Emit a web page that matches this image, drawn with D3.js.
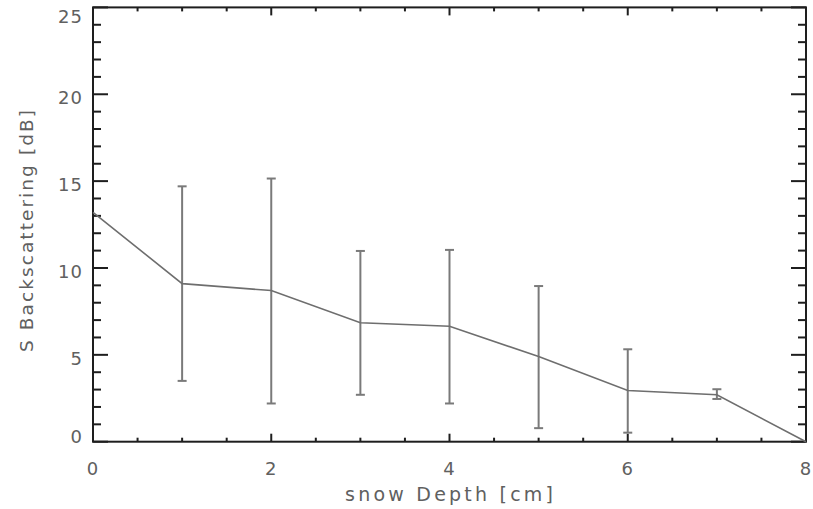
<!DOCTYPE html>
<html>
<head>
<meta charset="utf-8">
<script src="https://cdn.jsdelivr.net/npm/d3@7"></script>
<style>
  html, body { margin: 0; padding: 0; background: #fff; }
  svg { display: block; }
  text { font-family: "DejaVu Sans", sans-serif; fill: #606060; }
</style>
</head>
<body>
<svg id="chart" width="813" height="509"></svg>
<script>
// Snow depth (cm) and mean S-band backscattering (dB) with error bar bounds
const depth = [0, 1, 2, 3, 4, 5, 6, 7, 8];
const backscatter = [13.2, 9.1, 8.7, 6.85, 6.65, 4.9, 2.95, 2.7, 0];
const errLow =  [null, 3.5, 2.2, 2.7, 2.2, 0.78, 0.52, 2.46, null];
const errHigh = [null, 14.7, 15.15, 10.98, 11.04, 8.96, 5.32, 3.02, null];
const xTicks = [0, 2, 4, 6, 8];
const yTicks = [0, 5, 10, 15, 20, 25];

const svg = d3.select("#chart");
const plotLeft = 93, plotRight = 806, plotTop = 7.4, plotBottom = 441.7;

const x = d3.scaleLinear().domain([0, 8]).range([plotLeft, plotRight]);
const y = d3.scaleLinear().domain([0, 25]).range([plotBottom, plotTop]);

const frame = svg.append("g").attr("stroke", "#1e1e1e").attr("stroke-width", 2);

// Minor / major ticks on all four sides
const xMinor = d3.range(0, 8.01, 0.5);
const yMinor = d3.range(0, 25.01, 1);
xMinor.forEach(v => {
  const major = xTicks.includes(v);
  const len = major ? 8 : 4;
  frame.append("line").attr("x1", x(v)).attr("x2", x(v)).attr("y1", plotBottom).attr("y2", plotBottom - len);
  frame.append("line").attr("x1", x(v)).attr("x2", x(v)).attr("y1", plotTop).attr("y2", plotTop + len);
});
yMinor.forEach(v => {
  const major = yTicks.includes(v);
  const len = major ? 15 : 8;
  frame.append("line").attr("x1", plotLeft).attr("x2", plotLeft + len).attr("y1", y(v)).attr("y2", y(v));
  frame.append("line").attr("x1", plotRight).attr("x2", plotRight - len).attr("y1", y(v)).attr("y2", y(v));
});

// Plot frame
frame.append("rect")
  .attr("x", plotLeft).attr("y", plotTop)
  .attr("width", plotRight - plotLeft).attr("height", plotBottom - plotTop)
  .attr("fill", "none");

// Tick labels (end labels nudged inward so they stay on the canvas)
svg.append("g").selectAll("text").data(xTicks).join("text")
  .attr("x", d => x(d)).attr("y", 475)
  .attr("text-anchor", "middle")
  .attr("font-size", 18)
  .attr("letter-spacing", 1)
  .text(d => d);

const yNudge = d => d === 0 ? -5 : d === 25 ? 9.3 : 3.5;
svg.append("g").selectAll("text").data(yTicks).join("text")
  .attr("x", 83).attr("y", d => y(d) + yNudge(d))
  .attr("dy", "0.36em")
  .attr("text-anchor", "end")
  .attr("font-size", 18)
  .attr("letter-spacing", 1)
  .text(d => d);

// Axis titles
svg.append("text")
  .attr("x", 449).attr("y", 501)
  .attr("text-anchor", "middle")
  .attr("font-size", 19)
  .attr("textLength", 208)
  .attr("lengthAdjust", "spacing")
  .text("snow Depth [cm]");

svg.append("text")
  .attr("transform", "translate(33, 231) rotate(-90)")
  .attr("text-anchor", "middle")
  .attr("font-size", 18.5)
  .attr("textLength", 242)
  .attr("lengthAdjust", "spacing")
  .text("S Backscattering [dB]");

// Error bars
const bars = depth.map((d, i) => ({ d, lo: errLow[i], hi: errHigh[i] })).filter(e => e.lo !== null);
const eg = svg.append("g").attr("stroke", "#7a7a7a").attr("stroke-width", 2);
bars.forEach(e => {
  eg.append("line").attr("x1", x(e.d)).attr("x2", x(e.d)).attr("y1", y(e.lo)).attr("y2", y(e.hi));
  [e.lo, e.hi].forEach(v => {
    eg.append("line").attr("x1", x(e.d) - 4.5).attr("x2", x(e.d) + 4.5).attr("y1", y(v)).attr("y2", y(v));
  });
});

// Mean backscattering line
const line = d3.line().x((d, i) => x(depth[i])).y(d => y(d));
svg.append("path")
  .datum(backscatter)
  .attr("d", line)
  .attr("fill", "none")
  .attr("stroke", "#6e6e6e")
  .attr("stroke-width", 1.6);
</script>
</body>
</html>
